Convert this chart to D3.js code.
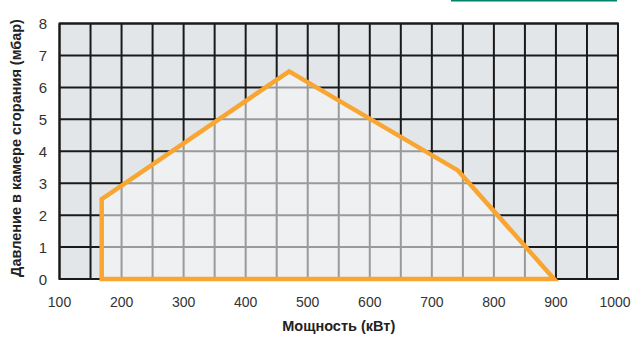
<!DOCTYPE html>
<html><head><meta charset="utf-8">
<script src="https://cdn.jsdelivr.net/npm/d3@7"></script>
<style>body{margin:0;background:#fff;}svg{display:block;}</style>
</head><body>
<svg id="chart" width="632" height="337"></svg>
<script>
const xTicks = [100,200,300,400,500,600,700,800,900,1000];
const yTicks = [0,1,2,3,4,5,6,7,8];
const xGrid = d3.range(100, 1001, 50);
const powerKW = [168, 168, 470, 742, 897];
const pressureMbar = [0, 2.5, 6.5, 3.4, 0];
const xTitle = "Мощность (кВт)";
const yTitle = "Давление в камере сгорания (мбар)";

const svg = d3.select("#chart");
const L = 59.5, R = 618, T = 23.5, B = 279;
const x = d3.scaleLinear().domain([100,1000]).range([L,R]);
const y = d3.scaleLinear().domain([0,8]).range([B,T]);

svg.append("line").attr("x1",451).attr("x2",617).attr("y1",0.5).attr("y2",0.5)
  .attr("stroke","#00836b").attr("stroke-width",2);

svg.append("rect").attr("x",L).attr("y",T).attr("width",R-L).attr("height",B-T).attr("fill","#e3e6e8");

const gOuter = svg.append("g");
gOuter.selectAll("line.v").data(xGrid).join("line")
  .attr("x1",d=>x(d)).attr("x2",d=>x(d)).attr("y1",T).attr("y2",B)
  .attr("stroke","#1a1a1a").attr("stroke-width",2);
gOuter.selectAll("line.h").data(yTicks).join("line")
  .attr("x1",L).attr("x2",R).attr("y1",d=>y(d)).attr("y2",d=>y(d))
  .attr("stroke","#1a1a1a").attr("stroke-width",2);

const pts = powerKW.map((p,i)=>[x(p), y(pressureMbar[i])]);
svg.append("clipPath").attr("id","poly").append("polygon").attr("points", pts.map(p=>p.join(",")).join(" "));

const gIn = svg.append("g").attr("clip-path","url(#poly)");
gIn.append("rect").attr("x",L).attr("y",T).attr("width",R-L).attr("height",B-T).attr("fill","#eff0f2");
gIn.selectAll("line.v").data(xGrid).join("line")
  .attr("x1",d=>x(d)).attr("x2",d=>x(d)).attr("y1",T).attr("y2",B)
  .attr("stroke","#9a9a9a").attr("stroke-width",2);
gIn.selectAll("line.h").data(yTicks).join("line")
  .attr("x1",L).attr("x2",R).attr("y1",d=>y(d)).attr("y2",d=>y(d))
  .attr("stroke","#9a9a9a").attr("stroke-width",2);

svg.append("rect").attr("x",L).attr("y",T).attr("width",R-L).attr("height",B-T)
  .attr("fill","none").attr("stroke","#1a1a1a").attr("stroke-width",2);

svg.append("polygon").attr("points", pts.map(p=>p.join(",")).join(" "))
  .attr("fill","none").attr("stroke","#f8a531").attr("stroke-width",4.5).attr("stroke-linejoin","miter");

svg.selectAll("text.xt").data(xTicks).join("text")
  .attr("x",d=>x(d) - (d===1000?3:0)).attr("y",307).attr("text-anchor","middle")
  .attr("font-family","Liberation Sans, Arial, sans-serif").attr("font-size",14).attr("fill","#333")
  .text(d=>d);
svg.selectAll("text.yt").data(yTicks).join("text")
  .attr("x",47).attr("y",d=>y(d)+5.5).attr("text-anchor","end")
  .attr("font-family","Liberation Sans, Arial, sans-serif").attr("font-size",15).attr("fill","#333")
  .text(d=>d);

svg.append("text").attr("x",x(550)).attr("y",331).attr("text-anchor","middle")
  .attr("font-family","Liberation Sans, Arial, sans-serif").attr("font-weight","bold").attr("font-size",14.5).attr("fill","#222")
  .text(xTitle);
svg.append("text").attr("transform","translate(21,148) rotate(-90)").attr("text-anchor","middle")
  .attr("font-family","Liberation Sans, Arial, sans-serif").attr("font-weight","bold").attr("font-size",14.5).attr("fill","#222")
  .text(yTitle);
</script>
</body></html>
